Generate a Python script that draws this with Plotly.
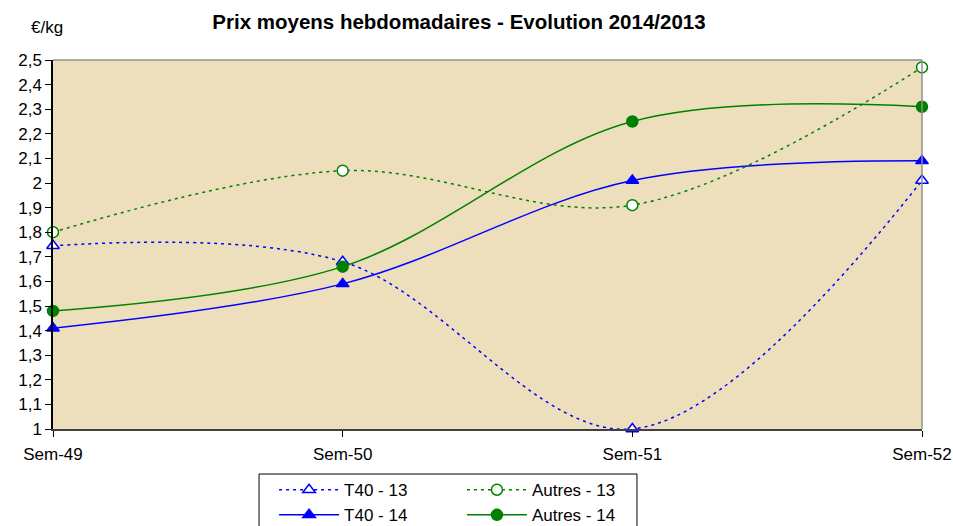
import plotly.graph_objects as go

weeks = ["Sem-49", "Sem-50", "Sem-51", "Sem-52"]
t40_13 = [1.745, 1.68, 1.00, 2.01]
autres_13 = [1.80, 2.05, 1.91, 2.47]
t40_14 = [1.41, 1.59, 2.01, 2.09]
autres_14 = [1.48, 1.66, 2.25, 2.31]
y_tickvals = [1.0, 1.1, 1.2, 1.3, 1.4, 1.5, 1.6, 1.7, 1.8, 1.9, 2.0, 2.1, 2.2, 2.3, 2.4, 2.5]
y_ticktext = ["1", "1,1", "1,2", "1,3", "1,4", "1,5", "1,6", "1,7", "1,8", "1,9",
              "2", "2,1", "2,2", "2,3", "2,4", "2,5"]

BLUE = "#0000FF"
GREEN = "#008000"
FONT = "Liberation Sans, Arial, sans-serif"

fig = go.Figure()

def add(name, vals, color, dash, symbol, filled, legend):
    fig.add_trace(go.Scatter(
        x=weeks, y=vals, name=name, mode="lines+markers",
        line=dict(color=color, width=1.5, dash=dash, shape="spline", smoothing=1.0),
        marker=dict(symbol=symbol, size=11,
                    color=color if filled else "white",
                    line=dict(color=color, width=1.5)),
        cliponaxis=False, legend=legend,
    ))

add("T40 - 13", t40_13, BLUE, "3px,4px", "triangle-up", False, "legend")
add("T40 - 14", t40_14, BLUE, "solid", "triangle-up", True, "legend")
add("Autres - 13", autres_13, GREEN, "3px,4px", "circle", False, "legend2")
add("Autres - 14", autres_14, GREEN, "solid", "circle", True, "legend2")

fig.update_layout(
    width=953, height=526,
    margin=dict(l=53, r=31, t=60, b=97, autoexpand=False),
    paper_bgcolor="white",
    plot_bgcolor="#EEDFBC",
    font=dict(family=FONT, size=17, color="black"),
    title=dict(text="<b>Prix moyens hebdomadaires - Evolution 2014/2013</b>",
               x=0.4816, xanchor="center", y=0.958, yanchor="middle",
               font=dict(size=20.5, family=FONT)),
    showlegend=True,
    legend=dict(x=0.2544, y=-0.117, xanchor="left", yanchor="top",
                orientation="v", bgcolor="rgba(0,0,0,0)", itemwidth=60,
                font=dict(size=17, family=FONT), tracegroupgap=0),
    legend2=dict(x=0.4706, y=-0.117, xanchor="left", yanchor="top",
                 orientation="v", bgcolor="rgba(0,0,0,0)", itemwidth=60,
                 font=dict(size=17, family=FONT), tracegroupgap=0),
    annotations=[dict(text="€/kg", xref="paper", yref="paper", x=-0.007, y=1.087,
                      xanchor="center", yanchor="middle", showarrow=False,
                      font=dict(size=17, family=FONT))],
    shapes=[
        dict(type="rect", xref="paper", yref="paper",
             x0=0.2371, x1=0.672, y0=-0.122, y1=-0.32,
             line=dict(color="black", width=1), fillcolor="rgba(0,0,0,0)"),
        dict(type="line", xref="paper", yref="paper", x0=0, x1=1, y0=1, y1=1,
             line=dict(color="#909090", width=1.5)),
        dict(type="line", xref="paper", yref="paper", x0=1, x1=1, y0=0, y1=1,
             line=dict(color="#909090", width=1.5)),
    ],
)

fig.update_xaxes(
    type="category", range=[0, 3], showgrid=False, zeroline=False,
    showline=True, linecolor="#404040", linewidth=2,
    ticks="outside", ticklen=6, tickcolor="black", tickwidth=1,
    tickfont=dict(size=17, family=FONT), ticklabelstandoff=3,
)
fig.update_yaxes(
    range=[1, 2.5], showgrid=False, zeroline=False,
    showline=True, linecolor="black", linewidth=1.5,
    ticks="outside", ticklen=6, tickcolor="black", tickwidth=1,
    tickvals=y_tickvals, ticktext=y_ticktext,
    tickfont=dict(size=17, family=FONT),
)

fig.write_html("out.html", config={"displayModeBar": False},
               post_script="document.body.style.margin='0px';document.body.style.overflow='hidden';")
